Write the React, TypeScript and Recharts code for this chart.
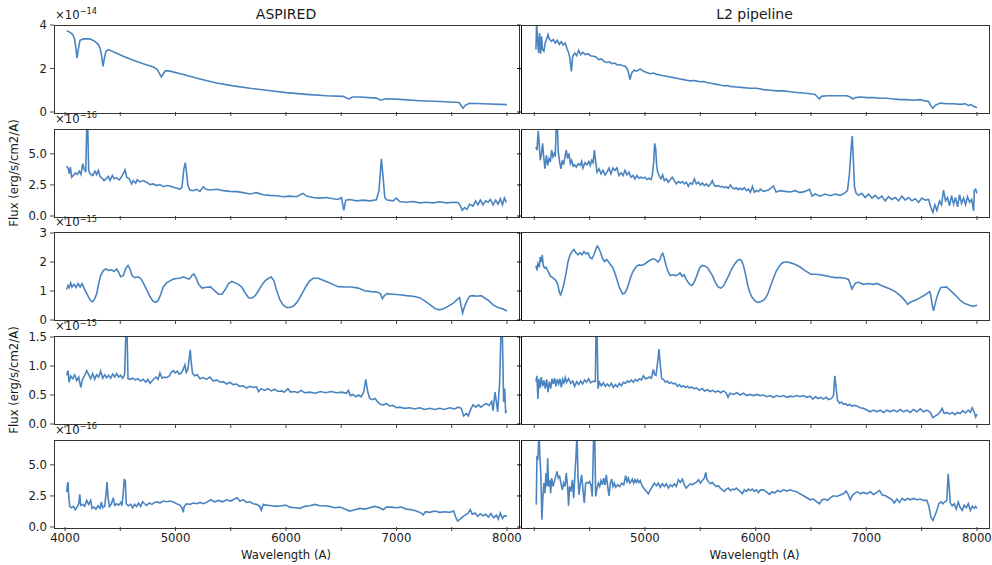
import React from 'react';
import { LineChart, Line, XAxis, YAxis } from 'recharts';

// ---------- data (wavelength in Å, flux in units of 10^exp erg/s/cm2/A) ----------
const aspired1 = [[4015,3.74],[4045,3.66],[4070,3.56],[4087,3.33],[4100,2.87],[4108,2.48],[4120,2.87],[4135,3.3],[4166,3.36],[4226,3.36],[4271,3.25],[4301,3.1],[4317,2.94],[4332,2.56],[4344,2.1],[4356,2.48],[4371,2.79],[4392,2.87],[4452,2.74],[4527,2.56],[4618,2.38],[4708,2.22],[4799,2.07],[4835,1.95],[4853,1.79],[4871,1.61],[4889,1.76],[4910,1.9],[4950,1.88],[5070,1.72],[5221,1.52],[5372,1.33],[5522,1.2],[5673,1.09],[5824,1.0],[6004,0.89],[6185,0.81],[6366,0.75],[6517,0.72],[6547,0.64],[6571,0.6],[6601,0.69],[6668,0.69],[6818,0.64],[6857,0.54],[6879,0.57],[6909,0.61],[7029,0.58],[7210,0.52],[7391,0.48],[7566,0.44],[7587,0.29],[7602,0.18],[7626,0.32],[7662,0.4],[7783,0.38],[8000,0.34]];

const aspired2 = [[4015,4.02],[4030,3.8],[4039,3.4],[4048,3.94],[4060,3.12],[4075,3.26],[4093,3.45],[4112,3.34],[4130,3.61],[4145,3.34],[4160,4.21],[4172,3.8],[4187,3.53],[4196,6.93],[4205,7.4],[4214,3.67],[4226,3.4],[4250,3.26],[4271,3.61],[4286,3.34],[4301,3.67],[4317,3.18],[4332,3.07],[4353,2.85],[4371,2.99],[4392,3.18],[4407,2.85],[4428,3.26],[4446,2.99],[4467,3.07],[4491,2.91],[4509,3.12],[4527,3.4],[4543,3.72],[4558,3.12],[4582,2.99],[4603,2.58],[4618,2.85],[4639,2.64],[4654,2.91],[4678,2.74],[4708,2.85],[4738,2.72],[4769,2.53],[4799,2.58],[4829,2.45],[4859,2.53],[4889,2.36],[4919,2.45],[4950,2.42],[4980,2.31],[5010,2.26],[5040,2.15],[5058,2.31],[5076,3.8],[5088,4.29],[5100,3.53],[5112,2.45],[5130,2.09],[5161,2.04],[5191,2.15],[5221,1.98],[5251,2.36],[5275,2.15],[5311,2.09],[5372,2.15],[5432,2.04],[5492,1.98],[5552,1.96],[5613,1.88],[5673,1.77],[5733,1.88],[5794,1.71],[5854,1.66],[5914,1.63],[5974,1.55],[6035,1.6],[6095,1.55],[6155,1.82],[6185,1.6],[6246,1.49],[6306,1.44],[6366,1.49],[6427,1.39],[6472,1.33],[6502,1.49],[6523,0.46],[6541,1.28],[6577,1.33],[6638,1.22],[6698,1.28],[6758,1.22],[6818,1.3],[6842,2.04],[6863,4.6],[6879,3.12],[6894,1.49],[6915,1.28],[6969,1.22],[6999,1.44],[7029,1.17],[7089,1.11],[7150,1.17],[7210,1.06],[7270,1.11],[7331,1.06],[7391,1.14],[7451,1.06],[7511,1.11],[7557,1.09],[7578,0.82],[7596,0.46],[7617,0.68],[7638,0.54],[7662,0.95],[7693,0.79],[7717,1.22],[7738,0.9],[7759,1.28],[7783,0.9],[7808,1.22],[7829,1.11],[7850,1.33],[7874,0.9],[7898,1.28],[7919,0.95],[7940,1.39],[7959,0.9],[7977,1.44],[7995,1.09]];

const aspired3 = [[4015,1.05],[4027,1.19],[4039,1.12],[4051,1.28],[4063,1.14],[4081,1.23],[4100,1.12],[4118,1.26],[4136,1.14],[4154,1.25],[4172,1.1],[4190,0.96],[4214,0.78],[4232,0.67],[4250,0.63],[4268,0.73],[4286,0.9],[4304,1.25],[4322,1.53],[4347,1.71],[4371,1.76],[4395,1.71],[4422,1.73],[4443,1.67],[4467,1.76],[4485,1.65],[4503,1.49],[4527,1.53],[4551,1.79],[4570,1.88],[4588,1.76],[4606,1.53],[4630,1.46],[4660,1.49],[4684,1.44],[4708,1.28],[4738,1.05],[4769,0.81],[4793,0.67],[4817,0.61],[4841,0.66],[4865,0.87],[4889,1.14],[4919,1.28],[4950,1.35],[4980,1.41],[5010,1.43],[5040,1.44],[5070,1.49],[5100,1.44],[5124,1.41],[5148,1.53],[5166,1.59],[5185,1.46],[5209,1.23],[5239,1.1],[5281,1.13],[5317,1.14],[5353,1.01],[5389,0.89],[5420,0.89],[5450,1.05],[5480,1.26],[5510,1.33],[5540,1.28],[5570,1.23],[5600,1.13],[5631,0.93],[5661,0.77],[5691,0.75],[5721,0.84],[5751,1.01],[5782,1.21],[5812,1.36],[5842,1.44],[5866,1.48],[5890,1.36],[5914,1.03],[5944,0.7],[5974,0.52],[6005,0.43],[6035,0.43],[6065,0.47],[6095,0.59],[6125,0.77],[6155,0.98],[6185,1.19],[6215,1.35],[6246,1.44],[6291,1.44],[6336,1.37],[6381,1.3],[6427,1.22],[6472,1.15],[6532,1.14],[6592,1.14],[6653,1.1],[6713,1.01],[6773,0.98],[6833,0.96],[6857,0.89],[6872,0.73],[6891,0.84],[6915,0.91],[6969,0.89],[7029,0.87],[7089,0.84],[7150,0.82],[7210,0.77],[7255,0.66],[7300,0.54],[7346,0.4],[7385,0.35],[7421,0.38],[7466,0.47],[7511,0.57],[7548,0.7],[7572,0.77],[7584,0.5],[7599,0.24],[7617,0.47],[7638,0.66],[7662,0.82],[7693,0.84],[7729,0.82],[7765,0.84],[7802,0.75],[7838,0.66],[7874,0.52],[7919,0.43],[7964,0.38],[8000,0.31]];

const aspired4 = [[4015,0.84],[4027,0.92],[4036,0.72],[4051,0.83],[4069,0.78],[4087,0.85],[4106,0.75],[4124,0.81],[4142,0.63],[4160,0.78],[4178,0.84],[4196,0.92],[4214,0.85],[4232,0.78],[4250,0.87],[4268,0.77],[4286,0.85],[4304,0.81],[4322,0.91],[4341,0.79],[4359,0.85],[4377,0.8],[4395,0.84],[4413,0.79],[4431,0.86],[4449,0.81],[4467,0.87],[4485,0.81],[4503,0.84],[4521,0.79],[4539,0.85],[4551,1.6],[4561,1.6],[4570,0.78],[4588,0.77],[4612,0.79],[4636,0.76],[4660,0.78],[4684,0.74],[4708,0.77],[4732,0.72],[4751,0.77],[4769,0.7],[4787,0.74],[4805,0.78],[4823,0.81],[4841,0.77],[4859,0.88],[4878,0.79],[4895,0.81],[4919,0.8],[4944,0.83],[4962,0.89],[4980,0.92],[4998,0.88],[5016,0.91],[5034,0.86],[5052,0.88],[5070,0.94],[5085,1.02],[5097,0.89],[5112,0.94],[5124,1.13],[5133,1.28],[5142,1.07],[5154,0.87],[5172,0.83],[5197,0.85],[5221,0.78],[5251,0.8],[5281,0.77],[5311,0.81],[5341,0.74],[5372,0.76],[5402,0.72],[5432,0.73],[5462,0.69],[5492,0.72],[5522,0.68],[5552,0.69],[5582,0.65],[5613,0.66],[5643,0.62],[5673,0.65],[5703,0.63],[5733,0.64],[5751,0.56],[5776,0.61],[5806,0.58],[5836,0.61],[5866,0.57],[5896,0.6],[5926,0.56],[5956,0.57],[5986,0.55],[6017,0.61],[6041,0.55],[6077,0.56],[6107,0.54],[6137,0.58],[6167,0.54],[6216,0.55],[6264,0.53],[6312,0.56],[6360,0.54],[6409,0.56],[6457,0.54],[6505,0.55],[6547,0.53],[6565,0.58],[6583,0.49],[6607,0.51],[6632,0.47],[6656,0.5],[6680,0.47],[6704,0.55],[6722,0.77],[6740,0.55],[6758,0.44],[6782,0.42],[6806,0.44],[6830,0.38],[6854,0.34],[6879,0.33],[6909,0.35],[6939,0.31],[6969,0.32],[6999,0.28],[7029,0.29],[7075,0.27],[7120,0.28],[7165,0.26],[7210,0.28],[7255,0.25],[7300,0.27],[7346,0.25],[7391,0.27],[7436,0.25],[7481,0.28],[7527,0.26],[7557,0.29],[7587,0.27],[7608,0.14],[7632,0.18],[7650,0.14],[7674,0.26],[7693,0.33],[7717,0.29],[7741,0.33],[7765,0.29],[7789,0.33],[7813,0.35],[7838,0.32],[7862,0.39],[7874,0.23],[7892,0.55],[7904,0.38],[7916,0.21],[7934,0.72],[7946,1.6],[7958,1.6],[7970,0.38],[7979,0.61],[7988,0.2],[8000,0.22]];

const aspired5 = [[4015,2.81],[4021,3.34],[4027,3.61],[4033,2.54],[4042,1.66],[4057,1.55],[4075,1.66],[4093,1.39],[4112,1.66],[4124,1.87],[4133,2.62],[4142,1.74],[4160,1.82],[4178,1.66],[4196,2.14],[4214,1.82],[4232,2.14],[4244,1.5],[4262,1.6],[4280,1.44],[4298,1.71],[4317,1.5],[4329,2.01],[4341,1.55],[4359,1.66],[4371,2.67],[4380,3.61],[4389,2.41],[4401,1.66],[4419,1.87],[4437,2.35],[4449,1.74],[4467,1.87],[4485,1.76],[4503,1.98],[4515,1.71],[4527,2.81],[4536,3.8],[4545,3.74],[4554,1.87],[4573,1.71],[4594,1.82],[4612,1.55],[4630,1.82],[4648,1.66],[4666,1.93],[4684,1.66],[4702,2.03],[4720,1.87],[4738,1.74],[4763,1.93],[4787,1.82],[4811,1.98],[4835,2.03],[4859,1.93],[4889,2.09],[4919,2.03],[4950,2.09],[4980,2.01],[5010,1.87],[5040,1.76],[5058,1.55],[5070,1.18],[5079,1.66],[5100,1.87],[5130,1.82],[5161,1.93],[5191,1.87],[5221,1.98],[5251,1.87],[5281,1.98],[5317,2.19],[5353,2.03],[5389,2.14],[5426,2.03],[5462,2.19],[5498,2.09],[5534,2.25],[5558,2.35],[5582,2.09],[5613,2.19],[5643,1.98],[5673,2.03],[5703,1.87],[5733,1.82],[5763,1.66],[5776,1.34],[5794,1.82],[5824,1.76],[5869,1.71],[5914,1.66],[5959,1.71],[5998,1.76],[6035,1.6],[6080,1.55],[6125,1.5],[6170,1.66],[6216,1.71],[6261,1.82],[6306,1.71],[6351,1.71],[6396,1.66],[6442,1.55],[6487,1.6],[6532,1.44],[6577,1.28],[6623,1.39],[6668,1.5],[6713,1.44],[6758,1.55],[6803,1.66],[6848,1.55],[6879,1.39],[6909,1.6],[6954,1.6],[6999,1.55],[7044,1.6],[7089,1.44],[7135,1.39],[7180,1.28],[7225,1.12],[7240,0.96],[7264,1.23],[7300,1.18],[7346,1.28],[7391,1.18],[7436,1.23],[7481,1.18],[7518,1.28],[7536,0.8],[7554,0.48],[7572,0.59],[7596,0.8],[7620,0.96],[7644,1.07],[7668,1.39],[7686,1.02],[7711,1.12],[7735,0.86],[7759,1.07],[7783,0.91],[7808,1.02],[7832,0.8],[7856,1.07],[7880,0.75],[7904,0.96],[7922,0.64],[7940,1.12],[7959,0.7],[7977,0.91],[8000,0.86]];

const l2_1 = [[4015,2.87],[4021,4.1],[4030,3.33],[4039,2.71],[4048,3.63],[4057,2.68],[4066,3.48],[4075,2.87],[4087,2.79],[4099,3.17],[4112,3.36],[4124,3.56],[4136,3.36],[4154,3.25],[4172,3.33],[4190,3.17],[4208,3.3],[4226,3.11],[4244,3.23],[4262,3.08],[4280,3.17],[4298,2.87],[4310,2.74],[4322,2.48],[4335,1.87],[4347,2.56],[4365,2.71],[4383,2.59],[4401,2.84],[4419,2.64],[4437,2.74],[4461,2.64],[4485,2.68],[4509,2.59],[4534,2.56],[4558,2.53],[4582,2.41],[4606,2.44],[4630,2.33],[4654,2.28],[4678,2.31],[4702,2.22],[4726,2.25],[4751,2.16],[4775,2.18],[4799,2.13],[4823,2.1],[4841,1.98],[4853,1.76],[4865,1.49],[4880,1.79],[4901,1.92],[4925,1.88],[4956,1.98],[4986,1.87],[5016,1.82],[5046,1.76],[5076,1.79],[5106,1.73],[5136,1.7],[5167,1.67],[5197,1.64],[5227,1.61],[5257,1.58],[5287,1.55],[5317,1.52],[5347,1.49],[5378,1.46],[5408,1.43],[5438,1.45],[5468,1.42],[5498,1.39],[5528,1.4],[5558,1.36],[5589,1.33],[5619,1.3],[5649,1.27],[5679,1.24],[5709,1.21],[5739,1.22],[5769,1.18],[5830,1.15],[5890,1.12],[5950,1.09],[6011,1.09],[6071,1.03],[6131,1.0],[6191,0.97],[6252,0.97],[6312,0.93],[6372,0.9],[6433,0.87],[6493,0.84],[6538,0.81],[6559,0.69],[6577,0.6],[6595,0.72],[6644,0.75],[6704,0.75],[6764,0.75],[6824,0.75],[6855,0.69],[6879,0.6],[6903,0.66],[6945,0.69],[7005,0.66],[7066,0.66],[7126,0.63],[7186,0.63],[7246,0.6],[7307,0.57],[7367,0.57],[7427,0.54],[7488,0.57],[7533,0.51],[7563,0.48],[7584,0.29],[7602,0.17],[7626,0.32],[7668,0.41],[7729,0.38],[7789,0.38],[7849,0.35],[7895,0.38],[7925,0.29],[7946,0.35],[7970,0.26],[7985,0.23],[8000,0.2]];

const l2_2 = [[4015,5.57],[4024,5.3],[4036,6.85],[4045,5.7],[4054,4.48],[4066,5.03],[4075,5.84],[4084,4.89],[4096,3.8],[4109,4.89],[4121,4.07],[4133,4.62],[4145,4.35],[4157,5.3],[4169,4.75],[4181,5.03],[4190,4.89],[4199,7.5],[4208,7.5],[4217,5.16],[4229,4.35],[4241,3.8],[4253,4.48],[4265,4.13],[4277,4.75],[4289,5.3],[4301,4.62],[4313,5.03],[4326,4.21],[4338,4.48],[4350,4.02],[4362,4.13],[4380,3.94],[4398,4.21],[4416,4.07],[4428,4.4],[4440,3.86],[4458,4.29],[4476,4.13],[4494,4.4],[4506,4.07],[4519,4.48],[4531,4.29],[4543,5.3],[4555,4.35],[4567,3.53],[4585,3.8],[4603,3.39],[4621,3.67],[4639,3.31],[4657,3.53],[4675,3.86],[4693,3.39],[4711,3.86],[4729,3.67],[4747,3.86],[4765,3.26],[4784,3.48],[4802,3.26],[4820,3.67],[4838,3.31],[4856,3.53],[4874,3.12],[4892,3.26],[4910,2.99],[4928,3.26],[4946,3.04],[4964,3.12],[4982,3.04],[5000,3.12],[5018,2.94],[5037,3.04],[5055,2.94],[5067,3.31],[5079,4.35],[5088,5.84],[5097,5.43],[5106,4.07],[5115,3.53],[5130,3.2],[5145,2.99],[5160,3.31],[5175,2.85],[5193,2.99],[5211,2.72],[5229,2.94],[5247,3.12],[5265,2.85],[5284,2.58],[5302,2.77],[5320,2.66],[5338,2.77],[5356,2.58],[5374,2.72],[5392,2.39],[5410,2.66],[5428,2.55],[5446,2.99],[5465,2.58],[5483,2.72],[5501,2.5],[5519,2.66],[5537,2.45],[5555,2.58],[5573,2.39],[5591,2.55],[5609,2.85],[5627,2.45],[5645,2.39],[5663,2.45],[5681,2.34],[5699,2.39],[5718,2.28],[5736,2.34],[5754,2.23],[5772,2.5],[5790,2.28],[5808,2.17],[5826,2.28],[5844,2.12],[5862,2.23],[5880,2.12],[5898,2.28],[5916,2.04],[5935,2.17],[5953,1.9],[5971,2.39],[5989,1.9],[6007,2.06],[6025,1.96],[6043,2.17],[6071,1.98],[6116,2.09],[6161,2.42],[6185,1.93],[6222,2.04],[6267,1.98],[6312,1.93],[6357,2.04],[6402,1.88],[6448,1.98],[6487,2.15],[6511,1.6],[6538,1.77],[6583,1.6],[6628,1.77],[6674,1.63],[6719,1.77],[6764,1.66],[6800,1.82],[6830,2.04],[6848,3.4],[6864,5.57],[6873,6.44],[6882,4.76],[6894,2.31],[6909,1.82],[6930,1.66],[6960,1.82],[6990,1.49],[7020,1.77],[7051,1.44],[7081,1.66],[7111,1.39],[7141,1.6],[7171,1.22],[7201,1.55],[7231,1.33],[7262,1.49],[7292,1.22],[7322,1.6],[7352,1.28],[7382,1.49],[7412,1.22],[7442,1.39],[7473,1.11],[7503,1.44],[7533,1.28],[7563,1.33],[7584,0.68],[7602,0.3],[7620,0.9],[7638,0.46],[7662,1.22],[7680,0.9],[7698,2.09],[7716,1.22],[7734,1.49],[7752,0.82],[7771,1.63],[7789,0.95],[7807,1.49],[7825,0.73],[7843,1.71],[7861,1.01],[7879,1.44],[7897,0.9],[7915,1.55],[7934,1.11],[7952,1.33],[7970,0.41],[7976,2.04],[7988,2.15],[8000,1.82]];

const l2_3 = [[4015,1.88],[4024,1.71],[4033,1.94],[4045,1.82],[4054,2.17],[4063,2.0],[4072,2.25],[4081,1.88],[4093,1.79],[4106,1.82],[4118,1.71],[4130,1.65],[4142,1.53],[4160,1.48],[4178,1.42],[4196,1.36],[4214,1.21],[4226,0.96],[4238,0.87],[4250,0.98],[4268,1.25],[4286,1.59],[4304,2.0],[4322,2.23],[4341,2.36],[4359,2.43],[4377,2.32],[4395,2.25],[4413,2.32],[4431,2.25],[4449,2.36],[4467,2.28],[4485,2.32],[4503,2.16],[4521,2.11],[4539,2.25],[4558,2.46],[4570,2.55],[4582,2.48],[4600,2.32],[4618,2.11],[4636,2.02],[4654,2.09],[4672,2.0],[4690,1.9],[4708,1.82],[4726,1.65],[4745,1.42],[4763,1.19],[4781,1.02],[4799,0.9],[4817,0.93],[4835,1.05],[4853,1.25],[4871,1.48],[4889,1.65],[4907,1.76],[4925,1.86],[4949,1.9],[4974,1.88],[4998,1.93],[5022,2.0],[5046,2.06],[5070,2.11],[5094,2.09],[5118,2.0],[5136,2.09],[5148,2.23],[5160,2.3],[5172,2.17],[5191,1.88],[5209,1.67],[5227,1.53],[5251,1.56],[5275,1.53],[5299,1.56],[5317,1.63],[5335,1.51],[5353,1.56],[5371,1.42],[5390,1.3],[5408,1.21],[5426,1.19],[5444,1.3],[5462,1.46],[5480,1.65],[5498,1.82],[5516,1.88],[5540,1.86],[5564,1.81],[5588,1.67],[5612,1.51],[5636,1.3],[5661,1.14],[5685,1.1],[5709,1.17],[5733,1.35],[5757,1.53],[5781,1.74],[5805,1.9],[5829,2.02],[5853,2.09],[5872,2.06],[5890,1.88],[5908,1.59],[5926,1.25],[5944,0.98],[5968,0.78],[5992,0.67],[6017,0.61],[6041,0.63],[6065,0.66],[6089,0.75],[6113,0.93],[6137,1.19],[6161,1.44],[6185,1.67],[6209,1.83],[6234,1.95],[6258,2.0],[6288,2.0],[6318,1.97],[6348,1.93],[6378,1.88],[6409,1.81],[6439,1.72],[6469,1.65],[6499,1.58],[6538,1.58],[6583,1.56],[6628,1.53],[6674,1.49],[6719,1.46],[6764,1.46],[6809,1.44],[6839,1.4],[6855,1.25],[6870,1.07],[6885,1.17],[6903,1.28],[6930,1.3],[6975,1.23],[7020,1.26],[7066,1.23],[7096,1.26],[7126,1.21],[7171,1.14],[7216,1.07],[7262,0.98],[7307,0.84],[7352,0.66],[7373,0.54],[7397,0.61],[7442,0.68],[7488,0.77],[7533,0.87],[7572,0.98],[7584,0.84],[7596,0.5],[7608,0.32],[7620,0.52],[7638,0.78],[7656,0.98],[7674,1.12],[7698,1.13],[7722,1.14],[7746,1.07],[7771,0.98],[7795,0.89],[7819,0.8],[7849,0.68],[7879,0.59],[7909,0.54],[7940,0.5],[7970,0.47],[8000,0.52]];

const l2_4 = [[4015,0.73],[4024,0.83],[4033,0.43],[4042,0.78],[4051,0.62],[4063,0.81],[4075,0.65],[4087,0.75],[4099,0.61],[4112,0.77],[4124,0.55],[4136,0.73],[4148,0.61],[4160,0.78],[4172,0.69],[4184,0.79],[4196,0.65],[4208,0.77],[4220,0.69],[4232,0.78],[4244,0.63],[4256,0.77],[4268,0.71],[4280,0.8],[4292,0.72],[4310,0.78],[4329,0.7],[4347,0.74],[4365,0.65],[4383,0.73],[4401,0.68],[4419,0.74],[4437,0.69],[4455,0.76],[4473,0.72],[4491,0.78],[4509,0.71],[4534,0.74],[4552,0.73],[4558,1.6],[4567,1.6],[4576,0.61],[4588,0.72],[4606,0.66],[4624,0.71],[4642,0.65],[4660,0.69],[4678,0.65],[4696,0.7],[4714,0.63],[4733,0.68],[4751,0.64],[4769,0.7],[4787,0.66],[4805,0.72],[4823,0.7],[4841,0.74],[4859,0.72],[4877,0.76],[4895,0.72],[4913,0.77],[4931,0.74],[4949,0.78],[4968,0.76],[4986,0.83],[5004,0.78],[5022,0.79],[5040,0.81],[5058,0.79],[5076,0.94],[5088,0.85],[5100,0.84],[5115,1.07],[5127,1.29],[5139,1.01],[5151,0.78],[5167,0.77],[5185,0.72],[5203,0.74],[5221,0.7],[5239,0.72],[5257,0.69],[5275,0.7],[5293,0.65],[5311,0.68],[5329,0.64],[5347,0.66],[5365,0.63],[5384,0.65],[5402,0.62],[5420,0.64],[5444,0.61],[5468,0.62],[5492,0.58],[5516,0.61],[5540,0.57],[5564,0.59],[5588,0.56],[5612,0.58],[5636,0.55],[5661,0.57],[5685,0.54],[5709,0.57],[5733,0.54],[5751,0.46],[5769,0.53],[5800,0.51],[5830,0.54],[5860,0.5],[5890,0.53],[5920,0.49],[5950,0.51],[5980,0.49],[6011,0.51],[6041,0.49],[6071,0.5],[6101,0.47],[6131,0.49],[6161,0.46],[6191,0.49],[6222,0.47],[6252,0.49],[6282,0.46],[6312,0.48],[6342,0.47],[6372,0.49],[6402,0.47],[6433,0.49],[6463,0.46],[6493,0.48],[6517,0.43],[6541,0.47],[6565,0.44],[6589,0.46],[6613,0.43],[6638,0.46],[6662,0.42],[6686,0.44],[6704,0.49],[6716,0.83],[6728,0.61],[6740,0.41],[6758,0.36],[6776,0.38],[6794,0.34],[6812,0.35],[6830,0.32],[6848,0.34],[6867,0.31],[6885,0.32],[6915,0.31],[6945,0.28],[6975,0.27],[7005,0.24],[7035,0.21],[7066,0.24],[7096,0.21],[7126,0.24],[7156,0.2],[7186,0.24],[7216,0.21],[7246,0.24],[7277,0.21],[7307,0.25],[7337,0.21],[7367,0.24],[7397,0.2],[7427,0.25],[7457,0.21],[7488,0.26],[7518,0.21],[7548,0.24],[7578,0.2],[7602,0.11],[7626,0.14],[7650,0.17],[7668,0.21],[7686,0.27],[7704,0.18],[7729,0.2],[7752,0.17],[7777,0.2],[7801,0.16],[7825,0.2],[7849,0.18],[7873,0.23],[7897,0.19],[7921,0.24],[7940,0.2],[7958,0.28],[7976,0.2],[7988,0.12],[8000,0.17]];

const l2_5 = [[4018,1.8],[4024,5.61],[4033,5.53],[4042,7.5],[4051,5.67],[4060,4.07],[4069,0.59],[4078,2.46],[4087,3.53],[4096,2.72],[4105,4.33],[4114,3.26],[4121,5.53],[4130,3.26],[4139,3.8],[4148,2.72],[4157,3.93],[4169,3.26],[4181,3.66],[4193,4.07],[4205,4.47],[4217,3.93],[4229,4.07],[4241,3.53],[4253,2.99],[4265,3.53],[4277,3.26],[4289,4.33],[4301,3.26],[4310,1.71],[4319,3.26],[4332,2.85],[4344,3.8],[4356,2.32],[4368,4.39],[4377,5.67],[4386,7.5],[4395,4.07],[4404,2.59],[4416,3.53],[4428,4.2],[4440,2.99],[4452,1.93],[4464,3.53],[4476,3.59],[4488,3.53],[4500,3.66],[4512,3.39],[4524,2.46],[4537,7.5],[4546,7.5],[4555,2.46],[4567,3.13],[4579,3.53],[4591,3.26],[4603,3.74],[4615,3.39],[4627,3.93],[4639,3.39],[4651,4.2],[4663,3.26],[4675,2.51],[4687,3.53],[4699,3.86],[4711,3.26],[4723,3.53],[4736,3.2],[4754,3.39],[4772,3.26],[4790,3.53],[4808,3.39],[4826,4.12],[4838,3.66],[4850,3.93],[4862,3.53],[4874,3.66],[4886,3.86],[4898,3.53],[4910,3.8],[4922,3.59],[4934,3.8],[4946,3.59],[4958,3.74],[4971,3.39],[4983,3.2],[4995,3.05],[5013,2.86],[5031,2.67],[5049,2.99],[5067,3.26],[5085,3.53],[5103,3.32],[5121,3.53],[5139,3.2],[5157,3.48],[5175,3.26],[5193,3.48],[5212,3.13],[5230,3.39],[5248,3.26],[5266,3.48],[5284,3.26],[5302,3.8],[5320,3.59],[5338,3.86],[5356,3.39],[5374,3.13],[5392,3.32],[5410,3.48],[5429,3.39],[5447,3.53],[5465,3.59],[5483,3.8],[5501,3.53],[5519,3.74],[5537,3.93],[5549,4.39],[5561,3.8],[5573,3.66],[5591,3.48],[5609,3.59],[5627,3.39],[5645,3.26],[5663,3.32],[5681,3.13],[5699,2.99],[5718,2.86],[5736,3.05],[5754,3.13],[5772,2.93],[5790,3.05],[5808,2.99],[5826,3.13],[5844,2.99],[5862,2.86],[5880,2.67],[5898,2.99],[5916,2.86],[5935,3.05],[5953,2.93],[5971,3.05],[5989,2.86],[6007,2.99],[6025,2.77],[6043,2.99],[6071,2.99],[6101,2.81],[6125,2.62],[6149,2.83],[6173,2.73],[6197,2.94],[6222,2.83],[6252,2.99],[6282,2.89],[6312,2.99],[6342,2.89],[6372,2.83],[6402,2.67],[6433,2.51],[6463,2.35],[6493,2.19],[6523,2.25],[6553,2.03],[6577,1.87],[6601,2.19],[6626,2.25],[6650,2.14],[6674,2.35],[6704,2.51],[6734,2.46],[6764,2.57],[6794,2.67],[6818,2.89],[6836,2.62],[6855,2.19],[6873,2.51],[6897,2.73],[6921,2.83],[6945,2.67],[6975,2.78],[7005,2.67],[7035,2.83],[7066,2.62],[7096,2.78],[7120,2.94],[7144,2.57],[7174,2.51],[7204,2.35],[7234,2.19],[7253,1.93],[7277,2.25],[7301,1.98],[7325,2.3],[7349,2.14],[7373,2.3],[7397,2.19],[7427,2.3],[7457,2.19],[7488,2.25],[7518,2.14],[7548,2.14],[7566,1.66],[7584,0.8],[7602,0.53],[7620,0.91],[7638,1.34],[7656,1.87],[7677,2.03],[7692,1.87],[7710,2.03],[7728,2.14],[7740,4.28],[7750,3.21],[7759,1.93],[7777,1.71],[7795,1.87],[7813,1.44],[7831,2.01],[7849,1.55],[7867,1.34],[7885,1.76],[7904,1.55],[7922,1.87],[7940,1.34],[7958,1.66],[7976,1.5],[7988,1.66],[8000,1.5]];

const COLUMN_TITLES = ['ASPIRED', 'L2 pipeline'];
const ROW_EXPONENTS = [-14, -16, -15, -15, -16];
const ROW_Y_DOMAINS: [number, number][] = [[0, 4], [0, 7], [0, 3], [0, 1.5], [0, 7]];
const ROW_Y_TICKS = [[0, 2, 4], [0, 2.5, 5], [0, 1, 2, 3], [0, 0.5, 1, 1.5], [0, 2.5, 5]];
const ROW_Y_DECIMALS = [0, 1, 0, 1, 1];
const X_TICKS = [4000, 4500, 5000, 5500, 6000, 6500, 7000, 7500, 8000];
const SERIES = [
  [aspired1, aspired2, aspired3, aspired4, aspired5],
  [l2_1, l2_2, l2_3, l2_4, l2_5],
];

// ---------- layout ----------
const FONT = '"DejaVu Sans", "Liberation Sans", sans-serif';
const LINE_COLOR = '#4a84c0';
const SPINE = '#333';
const TEXT = '#1a1a1a';
const COLS = [
  { left: 54, width: 464, domain: [3900, 8100] as [number, number] },
  { left: 521, width: 467, domain: [3880, 8100] as [number, number] },
];
const ROW_TOPS = [25.3, 129.3, 232.7, 336.7, 440];
const PLOT_H = 87;
const YW = 50;
const MT = 12;
const MR = 8;

function Panel({ col, row }: { col: number; row: number }) {
  const c = COLS[col];
  const isBottom = row === 4;
  const XH = isBottom ? 26 : 6;
  const data = SERIES[col][row].map(([w, f]) => ({ w, f }));
  const dec = ROW_Y_DECIMALS[row];
  const tickStyle = { fontSize: 11.7, fill: TEXT, fontFamily: FONT };
  const tickColor = col === 1 ? '#000' : SPINE;
  return (
    <div style={{ position: 'absolute', left: c.left - YW, top: ROW_TOPS[row] - MT }}>
      <LineChart
        width={YW + c.width + MR}
        height={MT + PLOT_H + XH}
        data={data}
        margin={{ top: MT, right: MR, bottom: 0, left: 0 }}
      >
        <XAxis
          dataKey="w"
          type="number"
          domain={c.domain}
          allowDataOverflow
          ticks={X_TICKS}
          interval={0}
          height={XH}
          tickSize={4}
          tickMargin={3}
          tickLine={{ stroke: SPINE, strokeWidth: 0.9 }}
          axisLine={false}
          tick={tickStyle}
          tickFormatter={(v: number) =>
            isBottom && v % 1000 === 0 && !(col === 1 && v === 4000) ? String(v) : ''
          }
        />
        <YAxis
          type="number"
          domain={ROW_Y_DOMAINS[row]}
          allowDataOverflow
          ticks={ROW_Y_TICKS[row]}
          interval={0}
          width={YW}
          tickSize={4}
          tickMargin={3}
          tickLine={{ stroke: tickColor, strokeWidth: 0.9 }}
          axisLine={false}
          tick={tickStyle}
          tickFormatter={(v: number) => (col === 0 ? v.toFixed(dec) : '')}
        />
        <Line
          type="linear"
          dataKey="f"
          stroke={LINE_COLOR}
          strokeWidth={1.6}
          dot={false}
          activeDot={false}
          isAnimationActive={false}
        />
      </LineChart>
      {/* axes frame (spines) */}
      <div
        style={{
          position: 'absolute',
          left: YW - 0.5,
          top: MT - 0.5,
          width: c.width,
          height: PLOT_H,
          border: `1px solid ${SPINE}`,
          borderLeft: col === 1 ? '1.3px solid #000' : `1px solid ${SPINE}`,
          pointerEvents: 'none',
        }}
      />
    </div>
  );
}

function OffsetText({ row }: { row: number }) {
  const exp = String(ROW_EXPONENTS[row]).replace('-', '\u2212');
  return (
    <div
      style={{
        position: 'absolute',
        left: 55,
        top: ROW_TOPS[row] - 15.5,
        fontSize: 11.7,
        lineHeight: 1,
        fontFamily: FONT,
        color: TEXT,
        whiteSpace: 'nowrap',
      }}
    >
      {'\u00d710'}
      <span style={{ fontSize: 8.2, position: 'relative', top: -4.5 }}>{exp}</span>
    </div>
  );
}

export default function App() {
  const textBase: React.CSSProperties = {
    position: 'absolute',
    fontFamily: FONT,
    color: TEXT,
    lineHeight: 1,
    whiteSpace: 'nowrap',
  };
  return (
    <div
      style={{
        position: 'absolute',
        left: 0,
        top: 0,
        width: 992,
        height: 565,
        background: '#fff',
        overflow: 'hidden',
      }}
    >
      {[0, 1].map((col) =>
        [0, 1, 2, 3, 4].map((row) => <Panel key={`${col}-${row}`} col={col} row={row} />)
      )}
      {[0, 1, 2, 3, 4].map((row) => (
        <OffsetText key={`o${row}`} row={row} />
      ))}
      {COLUMN_TITLES.map((t, i) => (
        <div
          key={t}
          style={{
            ...textBase,
            fontSize: 14,
            left: COLS[i].left + COLS[i].width / 2,
            top: 7.3,
            transform: 'translateX(-50%)',
          }}
        >
          {t}
        </div>
      ))}
      {COLS.map((c, i) => (
        <div
          key={`xl${i}`}
          style={{
            ...textBase,
            fontSize: 11.7,
            left: c.left + c.width / 2,
            top: 550.2,
            transform: 'translateX(-50%)',
          }}
        >
          Wavelength (A)
        </div>
      ))}
      {[1, 3].map((row) => (
        <div
          key={`yl${row}`}
          style={{
            ...textBase,
            fontSize: 11.7,
            left: 15,
            top: ROW_TOPS[row] + PLOT_H / 2,
            transform: 'translate(-50%, -50%) rotate(-90deg)',
          }}
        >
          Flux (erg/s/cm2/A)
        </div>
      ))}
    </div>
  );
}
